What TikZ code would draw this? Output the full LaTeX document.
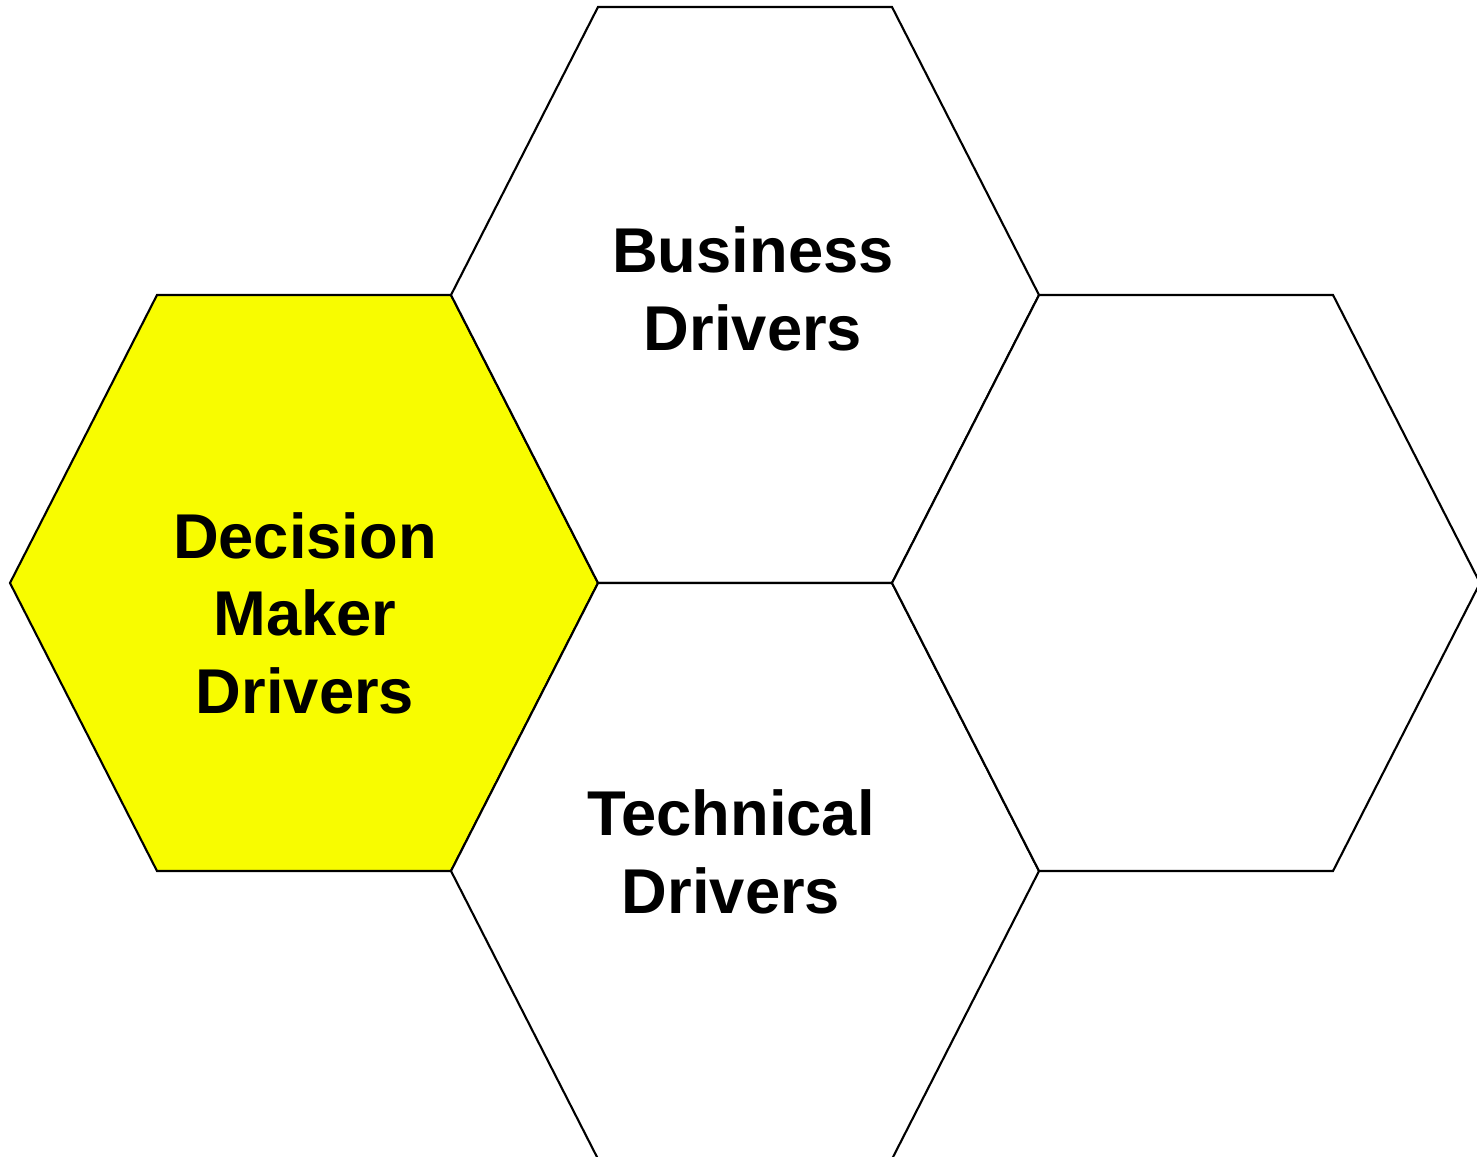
\documentclass[tikz,border=0pt]{standalone}
\usepackage{xcolor}
\usepackage{fontspec}
\setmainfont{Liberation Sans}
\usepackage{tikz}
\usetikzlibrary{positioning}
\definecolor{myyellow}{RGB}{248,252,0}
\newcommand\hexcell[2][hexw]{
    \draw[#1] (#2) ++(-294,0) -- ++(147,-288) -- ++(294,0) -- ++(147,288)
        -- ++(-147,288) -- ++(-294,0) -- cycle;
}

\begin{document}
\begin{tikzpicture}[x=0.01cm,y=-0.01cm,
            hexw/.style={draw=black,fill=white,line width=0.6pt,line join=miter},
            hexy/.style={hexw,fill=myyellow},
            lbl/.style={inner sep=0pt,align=center,
                font={\bfseries\fontsize{18}{22}\selectfont}},
        ]
        \useasboundingbox (0,0) rectangle (1477,1158);
        \clip (0,0) rectangle (1477,1156);

        \coordinate (DMD) at (304,583);
        \coordinate (BD) at (745,295);
        \coordinate (TD) at (745,871);
        \coordinate (Empty) at (1186,583);

        \hexcell[hexy]{DMD}
        \hexcell{BD}
        \hexcell{TD}
        \hexcell{Empty}

        \node[lbl] (BDtext) at (753,289) {Business\\Drivers};
        \node[lbl] (DMDtext) at (305,613) {Decision\\Maker\\Drivers};
        \node[lbl] (TDtext) at (731,852) {Technical\\Drivers};
    \end{tikzpicture}
\end{document}
